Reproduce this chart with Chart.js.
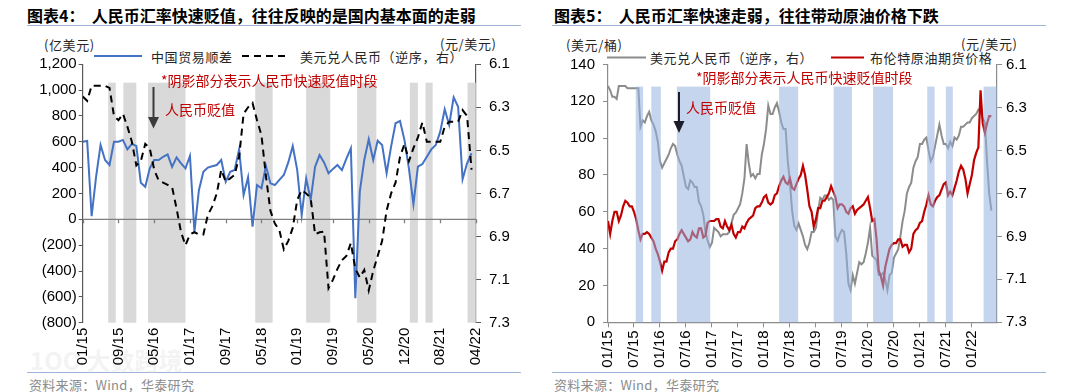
<!DOCTYPE html>
<html>
<head>
<meta charset="utf-8">
<script src="https://cdn.jsdelivr.net/npm/chart.js@4.4.1/dist/chart.umd.min.js"></script>
<style>
  body { margin: 0; background: #fff; }
  #wrap { position: relative; width: 1080px; height: 392px; overflow: hidden; font-family: "Noto Sans CJK SC", sans-serif; }
  .t { position: absolute; white-space: nowrap; line-height: 1; }
  .title { font-size: 16px; font-weight: bold; color: #000; }
  .rule { position: absolute; height: 0; border-top: 1.5px solid #9fb4d8; }
  .unit, .leg { font-size: 13px; color: #262626; letter-spacing: 0.6px; }
  .note { font-size: 14px; color: #c00000; }
  .src { font-size: 13px; color: #8c8c8c; letter-spacing: 0.3px; }
  .wm { font-size: 24px; color: rgba(215, 215, 215, 0.3); font-weight: bold; }
  canvas { position: absolute; top: 0; }
  svg { position: absolute; left: 0; top: 0; }
</style>
</head>
<body>
<div id="wrap">
  <!-- 左图 -->
  <div class="t title" style="left:27px;top:7px">图表4：&nbsp;&nbsp;人民币汇率快速贬值，往往反映的是国内基本面的走弱</div>
  <div class="rule" style="left:27px;top:25px;width:494px"></div>
  <div class="t unit" style="left:44px;top:38px">(亿美元)</div>
  <div class="t unit" style="left:440px;top:37px">(元/美元)</div>
  <div class="t leg" style="left:151px;top:50px">中国贸易顺差</div>
  <div class="t leg" style="left:300px;top:50px">美元兑人民币（逆序，右）</div>
  <div class="t src" style="left:29px;top:378px">资料来源：Wind，华泰研究</div>
  <div class="rule" style="left:27px;top:372px;width:494px"></div>
  <div class="t wm" style="left:30px;top:348px">1OO 大数跨境</div>

  <!-- 右图 -->
  <div class="t title" style="left:554px;top:7px">图表5：&nbsp;&nbsp;人民币汇率快速走弱，往往带动原油价格下跌</div>
  <div class="rule" style="left:552px;top:25px;width:494px"></div>
  <div class="t unit" style="left:566px;top:38px">(美元/桶)</div>
  <div class="t unit" style="left:961px;top:37px">(元/美元)</div>
  <div class="t leg" style="left:650px;top:51px">美元兑人民币（逆序，右）</div>
  <div class="t leg" style="left:870px;top:51px">布伦特原油期货价格</div>
  <div class="t src" style="left:554px;top:378px">资料来源：Wind，华泰研究</div>
  <div class="rule" style="left:552px;top:372px;width:494px"></div>

  <canvas id="leftChart" width="540" height="392" style="left:0"></canvas>
  <canvas id="rightChart" width="540" height="392" style="left:540px"></canvas>

  <svg width="1080" height="392">
    <!-- legend samples -->
    <line x1="94" y1="56" x2="142" y2="56" stroke="#4472C4" stroke-width="2"/>
    <line x1="242" y1="56" x2="286" y2="56" stroke="#000" stroke-width="2" stroke-dasharray="7,5"/>
    <line x1="607" y1="57.5" x2="646" y2="57.5" stroke="#8c8c8c" stroke-width="2"/>
    <line x1="831" y1="57.5" x2="864" y2="57.5" stroke="#c00000" stroke-width="2"/>
    <!-- arrows -->
    <line x1="153.5" y1="87" x2="153.5" y2="118" stroke="#3a3a3a" stroke-width="2"/>
    <polygon points="148,117 159,117 153.5,128.5" fill="#3a3a3a"/>
    <line x1="679" y1="92" x2="679" y2="122" stroke="#1c1c2a" stroke-width="2"/>
    <polygon points="673.5,121 684.5,121 679,133" fill="#1c1c2a"/>
  </svg>

  <div class="t note" style="left:161px;top:73px">*阴影部分表示人民币快速贬值时段</div>
  <div class="t note" style="left:165px;top:102px">人民币贬值</div>
  <div class="t note" style="left:696px;top:70px">*阴影部分表示人民币快速贬值时段</div>
  <div class="t note" style="left:686px;top:100px">人民币贬值</div>
</div>

<script>
// ---- 图表4 数据（月度，01/15 起）----
const leftTickLabels = ['01/15', '09/15', '05/16', '01/17', '09/17', '05/18', '01/19', '09/19', '05/20', '12/20', '08/21', '04/22'];

// 中国贸易顺差（亿美元）
const tradeSurplus = [
  600, 606, 25, 330, 575, 459, 420, 600, 600, 614, 541, 583,
  567, 283, 251, 394, 458, 458, 484, 502, 406, 479, 433, 394,
  490, -98, 225, 368, 400, 410, 420, 459, 291, 368, 381, 541,
  188, 325, -57, 265, 240, 412, 278, 265, 305, 343, 440, 567,
  381, 33, 317, 149, 407, 497, 440, 356, 390, 420, 381, 470,
  549, -611, 214, 459, 619, 459, 608, 575, 356, 562, 743, 761,
  613, 390, 118, 407, 428, 484, 541, 575, 678, 851, 730, 944,
  871, 309, 433, 511
];

// 美元兑人民币（逆序，右）
const usdCnyMonthly = [
  6.25, 6.27, 6.20, 6.20, 6.20, 6.20, 6.21, 6.34, 6.36, 6.33, 6.39, 6.46,
  6.57, 6.55, 6.47, 6.49, 6.59, 6.64, 6.65, 6.66, 6.67, 6.77, 6.88, 6.94,
  6.89, 6.88, 6.89, 6.89, 6.80, 6.76, 6.70, 6.59, 6.645, 6.63, 6.614, 6.53,
  6.33, 6.30, 6.28, 6.36, 6.43, 6.62, 6.78, 6.84, 6.87, 6.96, 6.92, 6.86,
  6.73, 6.684, 6.70, 6.72, 6.89, 6.88, 6.877, 7.14, 7.10, 7.05, 7.01, 6.99,
  6.93, 7.05, 7.09, 7.055, 7.15, 7.06, 6.99, 6.92, 6.78, 6.70, 6.65, 6.53,
  6.47, 6.55, 6.49, 6.44, 6.37, 6.46, 6.46, 6.46, 6.46, 6.39, 6.367, 6.367,
  6.367, 6.313, 6.34, 6.59
];

// 阴影：人民币快速贬值时段（月序号）
const leftShadeStart = [5.7, 9.1, 14.6, 38.6, 50.0, 61.4, 73.2, 76.7, 86.1];
const leftShadeEnd = [7.4, 12.0, 23.0, 42.5, 55.4, 65.7, 75.0, 78.3, 87.95];

const rateTicks = [6.1, 6.3, 6.5, 6.7, 6.9, 7.1, 7.3];

// ---- 图表5 数据（半月采样，01/15 起）----
const rightTickLabels = ['01/15', '07/15', '01/16', '07/16', '01/17', '07/17', '01/18', '07/18', '01/19', '07/19', '01/20', '07/20', '01/21', '07/21', '01/22'];

const usdCnyRate = [
  6.20, 6.22, 6.25, 6.25, 6.26, 6.20, 6.20, 6.20, 6.20, 6.21, 6.21, 6.21, 6.21, 6.21, 6.21, 6.39, 6.36, 6.37, 6.34, 6.32, 6.36, 6.38, 6.41, 6.46,
  6.55, 6.58, 6.56, 6.54, 6.52, 6.49, 6.47, 6.48, 6.52, 6.55, 6.57, 6.62, 6.67, 6.68, 6.64, 6.65, 6.67, 6.67, 6.74, 6.76, 6.80, 6.88, 6.92, 6.95,
  6.93, 6.86, 6.87, 6.88, 6.90, 6.89, 6.89, 6.89, 6.88, 6.84, 6.80, 6.79, 6.77, 6.75, 6.70, 6.63, 6.47, 6.56, 6.62, 6.61, 6.63, 6.61, 6.61, 6.52,
  6.47, 6.40, 6.29, 6.33, 6.33, 6.30, 6.28, 6.32, 6.37, 6.40, 6.40, 6.55, 6.65, 6.78, 6.85, 6.87, 6.84, 6.87, 6.90, 6.94, 6.96, 6.93, 6.88, 6.88,
  6.86, 6.78, 6.72, 6.73, 6.71, 6.71, 6.73, 6.72, 6.73, 6.90, 6.92, 6.89, 6.87, 6.88, 6.98, 7.12, 7.15, 7.08, 7.12, 7.07, 7.02, 7.03, 7.02, 6.98,
  6.93, 6.86, 6.99, 7.00, 7.01, 7.08, 7.08, 7.07, 7.10, 7.15, 7.08, 7.07, 7.00, 6.98, 6.96, 6.90, 6.83, 6.78, 6.70, 6.67, 6.65, 6.58, 6.55, 6.53,
  6.47, 6.47, 6.45, 6.44, 6.50, 6.55, 6.53, 6.48, 6.43, 6.38, 6.43, 6.47, 6.47, 6.49, 6.46, 6.48, 6.44, 6.45, 6.43, 6.39, 6.39, 6.38, 6.37, 6.37,
  6.35, 6.34, 6.33, 6.31, 6.32, 6.35, 6.37, 6.55, 6.70, 6.78
];

const brentPrice = [
  55, 48, 55, 60, 60, 55, 58, 63, 66, 65, 63, 63, 60, 56, 50, 45, 48, 48, 49, 48, 46, 44, 40, 37,
  33, 28, 33, 33, 38, 40, 40, 44, 45, 48, 50, 48, 46, 44, 45, 49, 47, 46, 51, 51, 46, 47, 54, 55,
  55, 55, 56, 56, 52, 51, 55, 52, 50, 53, 48, 46, 49, 49, 52, 51, 54, 56, 57, 58, 62, 63, 63, 65,
  68, 69, 65, 64, 65, 69, 70, 74, 77, 79, 76, 75, 78, 73, 72, 75, 78, 80, 85, 80, 72, 63, 60, 52,
  56, 62, 62, 66, 66, 68, 70, 74, 71, 68, 62, 64, 64, 63, 60, 59, 62, 63, 59, 61, 62, 63, 64, 66,
  68, 62, 55, 56, 45, 28, 25, 20, 30, 35, 40, 42, 43, 43, 45, 45, 41, 42, 42, 38, 40, 48, 50, 51,
  54, 55, 60, 64, 69, 64, 63, 66, 68, 69, 72, 75, 76, 69, 71, 69, 73, 77, 82, 85, 83, 78, 70, 75,
  80, 88, 92, 95, 126, 108, 103, 108, 112, 112
];

// 阴影（月份位置）
const rightShadeStart = [6.4, 10.0, 15.9, 39.5, 52.1, 61.2, 73.7, 78.0, 86.7];
const rightShadeEnd = [8.1, 12.2, 23.6, 43.9, 56.3, 65.8, 75.4, 79.6, 89.75];

const tickFont = { family: '"Liberation Sans", Arial, sans-serif', size: 15 };

// 阴影区插件
function shadePlugin(starts, ends, top, bottom, color, onTop) {
  const draw = (chart) => {
    const { ctx } = chart;
    const x = chart.scales.x, y = chart.scales.y;
    const yTop = y.getPixelForValue(top), yBot = y.getPixelForValue(bottom);
    ctx.save();
    ctx.fillStyle = color;
    starts.forEach((s, i) => {
      const x0 = x.getPixelForValue(s), x1 = x.getPixelForValue(ends[i]);
      ctx.fillRect(x0, yTop, x1 - x0, yBot - yTop);
    });
    ctx.restore();
  };
  return {
    id: 'shade',
    beforeDatasetsDraw(chart) { if (!onTop) draw(chart); },
    afterDatasetsDraw(chart) { if (onTop) draw(chart); }
  };
}

// 左图横轴画在0值处
const zeroLine = {
  id: 'zeroLine',
  beforeDatasetsDraw(chart) {
    const { ctx, chartArea, scales: { x, y } } = chart;
    const y0 = y.getPixelForValue(0);
    ctx.save();
    ctx.strokeStyle = '#7f7f7f';
    ctx.lineWidth = 1.3;
    ctx.beginPath();
    ctx.moveTo(chartArea.left, y0);
    ctx.lineTo(chartArea.right, y0);
    x.ticks.forEach(t => {
      const px = Math.round(x.getPixelForValue(t.value)) + 0.5;
      ctx.moveTo(px, y0);
      ctx.lineTo(px, y0 + 4);
    });
    ctx.stroke();
    ctx.restore();
  }
};

const fmtThousands = v => {
  const s = Math.abs(v).toLocaleString('en-US');
  return v < 0 ? '(' + s + ')' : s;
};

// 图表4
new Chart(document.getElementById('leftChart'), {
  type: 'line',
  data: {
    datasets: [
      {
        label: '美元兑人民币（逆序，右）',
        data: usdCnyMonthly.map((v, i) => ({ x: i, y: v })),
        yAxisID: 'y1',
        borderColor: '#000',
        borderWidth: 2,
        borderDash: [7, 5],
        pointRadius: 0,
        order: 0
      },
      {
        label: '中国贸易顺差',
        data: tradeSurplus.map((v, i) => ({ x: i, y: v })),
        yAxisID: 'y',
        borderColor: '#4472C4',
        borderWidth: 2,
        pointRadius: 0,
        order: 1
      }
    ]
  },
  options: {
    responsive: false,
    animation: false,
    layout: { padding: { top: 64.2, bottom: 0, left: 0, right: 0 } },
    plugins: { legend: { display: false }, tooltip: { enabled: false } },
    scales: {
      x: {
        type: 'linear',
        min: 0,
        max: 88,
        afterBuildTicks: s => { s.ticks = leftTickLabels.map((_, i) => ({ value: i * 8 })); },
        afterFit: s => { s.height = 69.3; },
        grid: { display: false, drawTicks: false },
        border: { display: false },
        ticks: {
          autoSkip: false, minRotation: 90, maxRotation: 90, padding: 5,
          color: '#000', font: tickFont,
          callback: (v, i) => leftTickLabels[i]
        }
      },
      y: {
        position: 'left',
        min: -800,
        max: 1200,
        ticks: { stepSize: 200, color: '#000', font: tickFont, padding: 2, callback: v => fmtThousands(v) },
        afterFit: s => { s.width = 82.7; },
        grid: { drawOnChartArea: false, drawTicks: true, tickLength: 4, color: '#595959' },
        border: { display: true, color: '#595959', width: 1.2 }
      },
      y1: {
        position: 'right',
        reverse: true,
        min: 6.1,
        max: 7.3,
        afterBuildTicks: s => { s.ticks = rateTicks.map(v => ({ value: v })); },
        ticks: { color: '#000', font: tickFont, padding: 8, callback: v => v.toFixed(1) },
        afterFit: s => { s.width = 64; },
        grid: { drawOnChartArea: false, drawTicks: true, tickLength: 5, color: '#595959' },
        border: { display: true, color: '#595959', width: 1.2 }
      }
    }
  },
  plugins: [shadePlugin(leftShadeStart, leftShadeEnd, 1057, -800, '#d9d9d9', false), zeroLine]
});

// 图表5
new Chart(document.getElementById('rightChart'), {
  type: 'line',
  data: {
    datasets: [
      {
        label: '布伦特原油期货价格',
        data: brentPrice.map((v, i) => ({ x: i / 2, y: v })),
        yAxisID: 'y',
        borderColor: '#c00000',
        borderWidth: 2.2,
        pointRadius: 0,
        order: 0
      },
      {
        label: '美元兑人民币（逆序，右）',
        data: usdCnyRate.map((v, i) => ({ x: i / 2, y: v })),
        yAxisID: 'y1',
        borderColor: '#8c8c8c',
        borderWidth: 2,
        pointRadius: 0,
        order: 1
      }
    ]
  },
  options: {
    responsive: false,
    animation: false,
    layout: { padding: { top: 64.5, bottom: 0, left: 0, right: 0 } },
    plugins: { legend: { display: false }, tooltip: { enabled: false } },
    scales: {
      x: {
        type: 'linear',
        min: 0,
        max: 89.8,
        afterBuildTicks: s => { s.ticks = rightTickLabels.map((_, i) => ({ value: i * 6 })); },
        afterFit: s => { s.height = 69.7; },
        grid: { drawOnChartArea: false, drawTicks: true, tickLength: 5, color: '#8c8c8c' },
        border: { display: true, color: '#8c8c8c', width: 1.2 },
        ticks: {
          autoSkip: false, minRotation: 90, maxRotation: 90, padding: 3,
          color: '#000', font: tickFont,
          callback: (v, i) => rightTickLabels[i]
        }
      },
      y: {
        position: 'left',
        min: 0,
        max: 140,
        ticks: { stepSize: 20, color: '#000', font: tickFont, padding: 8 },
        afterFit: s => { s.width = 68; },
        grid: { drawOnChartArea: false, drawTicks: true, tickLength: 5, color: '#8c8c8c' },
        border: { display: true, color: '#8c8c8c', width: 1.2 }
      },
      y1: {
        position: 'right',
        reverse: true,
        min: 6.1,
        max: 7.3,
        afterBuildTicks: s => { s.ticks = rateTicks.map(v => ({ value: v })); },
        ticks: { color: '#000', font: tickFont, padding: 4, callback: v => v.toFixed(1) },
        afterFit: s => { s.width = 83; },
        grid: { drawOnChartArea: false, drawTicks: true, tickLength: 5, color: '#8c8c8c' },
        border: { display: true, color: '#8c8c8c', width: 1.2 }
      }
    }
  },
  plugins: [shadePlugin(rightShadeStart, rightShadeEnd, 128, 0, 'rgba(150, 178, 224, 0.55)', true)]
});
</script>
</body>
</html>
